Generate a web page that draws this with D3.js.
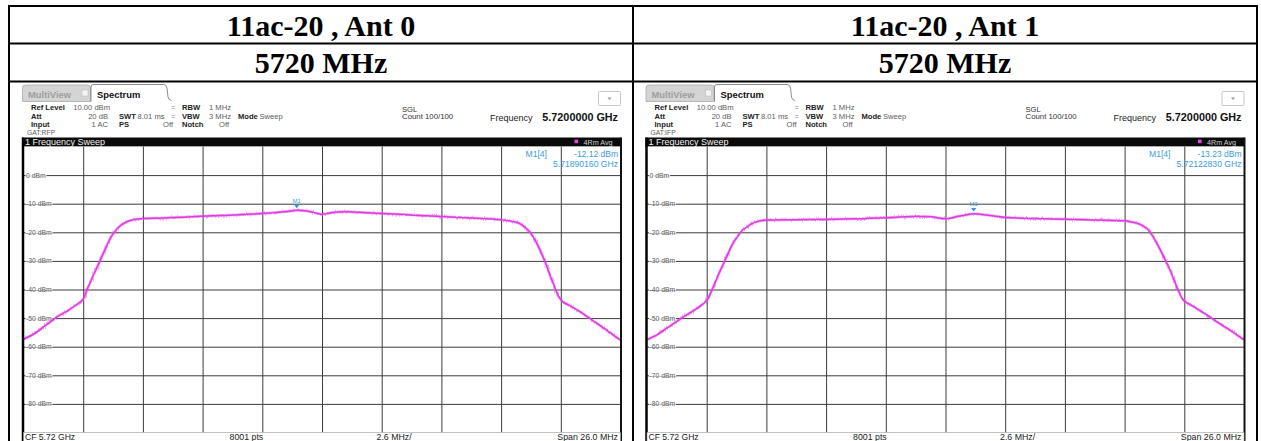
<!DOCTYPE html>
<html><head><meta charset="utf-8">
<script src="https://cdn.jsdelivr.net/npm/d3@7"></script>
<style>body{margin:0;background:#fff} svg{display:block}</style>
</head><body>
<script>
// ---------- DATA ----------
const panelTitles = ["11ac-20 , Ant 0", "11ac-20 , Ant 1"];
const channelLabels = ["5720 MHz", "5720 MHz"];
const yTickValues = [0, -10, -20, -30, -40, -50, -60, -70, -80];
const yTickLabels = ["0 dBm", "-10 dBm", "-20 dBm", "-30 dBm", "-40 dBm", "-50 dBm", "-60 dBm", "-70 dBm", "-80 dBm"];
const gatLabels = ["GAT:RFP", "GAT:IFP"];
const markerLevelText = ["-12.12 dBm", "-13.23 dBm"];
const markerFreqText = ["5.71890160 GHz", "5.72122830 GHz"];
const markerOffsetMHz = [-1.0984, 1.2283];
const markerLevel = [-12.12, -13.23];

// frequency offset from CF (MHz) and level (dBm)
const ant0Freq = [-13.0,-12.5,-12.0,-11.5,-11.0,-10.6,-10.4,-10.2,-10.0,-9.8,-9.6,-9.4,-9.2,-9.0,-8.8,-8.5,-8.2,-7.8,-7.0,-6.0,-5.0,-4.0,-3.0,-2.0,-1.5,-1.1,-0.6,-0.2,0.0,0.3,0.7,1.1,1.6,2.6,4.0,5.2,6.5,7.8,8.3,8.6,8.85,9.05,9.3,9.5,9.7,9.9,10.1,10.3,10.45,10.7,11.0,11.5,12.0,12.5,13.0];
const ant0Level = [-57.4,-55.3,-52.3,-49.4,-47.0,-44.8,-43.4,-39.4,-35.8,-32.3,-28.7,-25.2,-21.8,-19.5,-17.8,-16.3,-15.6,-15.2,-15.0,-14.7,-14.3,-14.0,-13.6,-13.1,-12.7,-12.3,-12.6,-13.4,-13.7,-13.3,-12.9,-12.8,-13.0,-13.4,-14.0,-14.5,-15.0,-15.6,-16.2,-16.9,-18.3,-19.9,-23.0,-26.3,-30.0,-34.3,-38.5,-42.3,-44.0,-45.3,-46.6,-49.2,-52.0,-54.8,-57.7];
const ant1Freq = [-13.0,-12.5,-12.0,-11.5,-11.0,-10.6,-10.37,-10.14,-9.9,-9.7,-9.53,-9.3,-9.02,-8.85,-8.66,-8.45,-8.22,-7.74,-6.5,-5.17,-4.0,-2.56,-1.8,-1.25,-0.6,-0.2,0.02,0.25,0.5,0.9,1.22,1.8,2.62,4.0,5.2,6.5,7.79,8.1,8.33,8.55,8.76,9.0,9.2,9.5,9.78,10.1,10.34,10.6,10.87,11.4,11.96,12.5,13.0];
const ant1Level = [-57.6,-55.5,-52.8,-50.0,-47.6,-45.3,-43.5,-39.6,-35.0,-31.5,-28.5,-24.5,-21.0,-19.3,-18.2,-17.0,-16.3,-15.7,-15.6,-15.5,-15.3,-14.9,-14.6,-14.4,-14.6,-15.1,-15.3,-15.0,-14.5,-13.9,-13.5,-14.0,-14.8,-15.2,-15.4,-15.7,-16.0,-16.4,-16.8,-17.5,-18.6,-21.0,-23.8,-28.5,-33.2,-39.6,-43.5,-45.0,-46.3,-49.0,-52.0,-54.8,-57.6];

const traces = [
  ant0Freq.map((f, i) => [f, ant0Level[i]]),
  ant1Freq.map((f, i) => [f, ant1Level[i]])
];

// ---------- LAYOUT ----------
const W = 1261, H = 441;
const uiFont = "'Liberation Sans', Arial, sans-serif";
const svg = d3.select("body").append("svg").attr("width", W).attr("height", H)
  .style("font-family", uiFont);
svg.append("rect").attr("width", W).attr("height", H).attr("fill", "#fff");

// trace jitter filter (visual texture only)
const defs = svg.append("defs");
const flt = defs.append("filter").attr("id", "jitter").attr("x", "-5%").attr("y", "-20%")
  .attr("width", "110%").attr("height", "140%");
flt.append("feTurbulence").attr("type", "fractalNoise").attr("baseFrequency", "1.1 0.08")
  .attr("numOctaves", 1).attr("seed", 3).attr("result", "n");
flt.append("feDisplacementMap").attr("in", "SourceGraphic").attr("in2", "n").attr("scale", 3.4)
  .attr("xChannelSelector", "B").attr("yChannelSelector", "R");

// table
const tbl = svg.append("g");
const cellX = [9, 633, 1257];
const rowY = [6, 43.5, 81.5];
const titleFont = "'Liberation Serif', 'Times New Roman', serif";
[0, 1].forEach(i => {
  const cx = (cellX[i] + cellX[i + 1]) / 2;
  tbl.append("text").attr("x", cx).attr("y", 35.5).attr("text-anchor", "middle")
    .attr("font-family", titleFont).attr("font-weight", "bold").attr("font-size", 30)
    .text(panelTitles[i]);
  tbl.append("text").attr("x", cx).attr("y", 73).attr("text-anchor", "middle")
    .attr("font-family", titleFont).attr("font-weight", "bold").attr("font-size", 30)
    .text(channelLabels[i]);
});

const plotW = 597;
const plotTop = 146.5, plotBottom = 432.5;
const origins = [23.5, 647];

origins.forEach((ox, p) => {
  const g = svg.append("g");
  const x = d3.scaleLinear().domain([-13, 13]).range([ox, ox + plotW]);
  const y = d3.scaleLinear().domain([10, -90]).range([plotTop, plotBottom]);

  const t = (tx, ty, s, opt = {}) => g.append("text").attr("x", ox + tx).attr("y", ty)
    .attr("font-size", opt.size || 7.6).attr("font-weight", opt.bold ? "bold" : "normal")
    .attr("fill", opt.fill || "#222").attr("text-anchor", opt.anchor || "start").text(s);

  // tabs
  g.append("path").attr("d", `M${ox-1},101.5 L${ox-1},88 Q${ox-1},85 ${ox+2},85 L${ox+64},85 Q${ox+67},85 ${ox+67},88 L${ox+67},101.5 Z`)
    .attr("fill", "#d4d4d4").attr("stroke", "#a8a8a8").attr("stroke-width", 0.8);
  t(4.5, 98, "MultiView", { size: 9.4, bold: true, fill: "#9e9e9e" });
  g.append("rect").attr("x", ox + 58.5).attr("y", 90).attr("width", 6).attr("height", 6)
    .attr("fill", "#f4f4f4").attr("stroke", "#bdbdbd").attr("stroke-width", 0.6);
  g.append("path").attr("d", `M${ox+67.5},101.5 L${ox+67.5},87 Q${ox+67.5},84.5 ${ox+70},84.5 L${ox+140},84.5 Q${ox+143},84.5 ${ox+143.5},88 L${ox+144.5},97 Q${ox+145},100 ${ox+148},100.5`)
    .attr("fill", "#fff").attr("stroke", "#6e6e6e").attr("stroke-width", 0.8);
  t(73.5, 98, "Spectrum", { size: 9.4, bold: true, fill: "#111" });
  // dropdown box
  g.append("rect").attr("x", ox + 575).attr("y", 91.5).attr("width", 22).attr("height", 14)
    .attr("fill", "#fff").attr("stroke", "#b8b8b8").attr("stroke-width", 0.8).attr("rx", 1);
  g.append("path").attr("d", `M${ox+584},97.5 L${ox+588},97.5 L${ox+586},100 Z`).attr("fill", "#9a9a9a");

  // parameter block
  const val = "#5c5c5c";
  t(7.5, 110, "Ref Level", { bold: true });
  t(86.5, 110, "10.00 dBm", { anchor: "end", fill: val });
  t(7.5, 118.5, "Att", { bold: true });
  t(84.5, 118.5, "20 dB", { anchor: "end", fill: val });
  t(7.5, 127, "Input", { bold: true });
  t(84.5, 127, "1 AC", { anchor: "end", fill: val });
  t(3.5, 135, gatLabels[p], { size: 6.8, fill: val });
  t(95.5, 118.5, "SWT", { bold: true });
  t(114, 118.5, "8.01 ms", { fill: val });
  t(95.5, 127, "PS", { bold: true });
  t(149.5, 127, "Off", { anchor: "end", fill: val });
  t(147.5, 110, "=", { fill: "#8a8a8a" });
  t(147.5, 118.5, "=", { fill: "#8a8a8a" });
  t(158.5, 110, "RBW", { bold: true });
  t(185.5, 110, "1 MHz", { fill: val });
  t(158.5, 118.5, "VBW", { bold: true });
  t(185.5, 118.5, "3 MHz", { fill: val });
  t(158.5, 127, "Notch", { bold: true });
  t(205.5, 127, "Off", { anchor: "end", fill: val });
  t(214.5, 118.5, "Mode", { bold: true });
  t(236, 118.5, "Sweep", { fill: val });
  t(378.5, 111.5, "SGL", { size: 7.6, fill: "#333" });
  t(378.5, 119, "Count 100/100", { size: 7.8, fill: "#333" });
  t(466.5, 120.5, "Frequency", { size: 9, fill: "#222" });
  t(594.5, 120.5, "5.7200000 GHz", { size: 10.8, bold: true, anchor: "end", fill: "#111" });

  // sweep title bar
  g.append("rect").attr("x", ox - 1.5).attr("y", 137.5).attr("width", plotW + 2).attr("height", 9.2)
    .attr("fill", "#0a0a0a");
  t(1.5, 145.4, "1 Frequency Sweep", { size: 9, fill: "#f2f2f2" });
  g.append("rect").attr("x", ox + 551).attr("y", 139.6).attr("width", 3.6).attr("height", 3.6).attr("fill", "#e544e5");
  t(589, 145.2, "4Rm Avg", { size: 7.2, fill: "#cfcfcf", anchor: "end" });

  // plot background
  g.append("rect").attr("x", ox).attr("y", plotTop).attr("width", plotW).attr("height", plotBottom - plotTop + 9)
    .attr("fill", "#fff");

  // grid via axes
  const xTicks = d3.range(1, 10).map(k => -13 + k * 2.6);
  const yGrid = d3.range(0, -90, -10);
  g.append("g").attr("transform", `translate(0,${plotBottom})`)
    .call(d3.axisBottom(x).tickValues(xTicks).tickSize(plotBottom - plotTop).tickFormat(""))
    .call(a => a.select(".domain").remove())
    .call(a => a.selectAll("line").attr("stroke", "#3c3c3c").attr("transform", `translate(0,${-(plotBottom - plotTop)})`));
  g.append("g").attr("transform", `translate(${ox},0)`)
    .call(d3.axisRight(y).tickValues(yGrid).tickSize(plotW).tickFormat(""))
    .call(a => a.select(".domain").remove())
    .call(a => a.selectAll("line").attr("stroke", "#3c3c3c"));

  // y labels
  yTickValues.forEach((v, i) => {
    const tx = g.append("text").attr("x", ox + 2.5).attr("y", y(v) + 2.4).attr("font-size", 6.8)
      .attr("fill", "#5a5a5a").text(yTickLabels[i]);
    const bb = tx.node().getBBox();
    g.insert("rect", () => tx.node()).attr("x", bb.x - 0.5).attr("y", y(v) - 0.8).attr("width", bb.width + 1)
      .attr("height", 1.6).attr("fill", "#fff");
  });

  // trace
  const line = d3.line().x(d => x(d[0])).y(d => y(d[1])).curve(d3.curveMonotoneX);
  const clipId = "clip" + p;
  defs.append("clipPath").attr("id", clipId).append("rect").attr("x", ox).attr("y", plotTop)
    .attr("width", plotW).attr("height", plotBottom - plotTop);
  const tg = g.append("g").attr("clip-path", `url(#${clipId})`);
  tg.append("path").datum(traces[p]).attr("d", line).attr("fill", "none")
    .attr("stroke", "#e85ae8").attr("stroke-width", 2.8).attr("stroke-opacity", 0.55)
    .attr("filter", "url(#jitter)");
  tg.append("path").datum(traces[p]).attr("d", line).attr("fill", "none")
    .attr("stroke", "#e03ae4").attr("stroke-width", 1.5);

  // marker
  const mx = x(markerOffsetMHz[p]), my = y(markerLevel[p]);
  g.append("path").attr("d", `M${mx-2.6},${my-5} L${mx+2.6},${my-5} L${mx},${my-1.5} Z`).attr("fill", "#2f93dc");
  t(mx - ox, my - 6.5, "M1", { size: 6, fill: "#3a9ee0", anchor: "middle" });
  t(502, 157, "M1[4]", { fill: "#3a9ee0", size: 8.6 });
  t(594.5, 157, markerLevelText[p], { fill: "#3a9ee0", size: 8.5, anchor: "end" });
  t(594.5, 167, markerFreqText[p], { fill: "#3a9ee0", size: 8.6, anchor: "end" });

  // borders
  g.append("line").attr("x1", ox - 0.5).attr("x2", ox - 0.5).attr("y1", 137.5).attr("y2", H)
    .attr("stroke", "#000").attr("stroke-width", 2.5);
  g.append("line").attr("x1", ox + plotW + 0.5).attr("x2", ox + plotW + 0.5).attr("y1", 137.5).attr("y2", H)
    .attr("stroke", "#111").attr("stroke-width", 2);

  // bottom status bar
  g.append("rect").attr("x", ox).attr("y", plotBottom).attr("width", plotW).attr("height", 10)
    .attr("fill", "#fff").attr("stroke", "#999").attr("stroke-width", 0.6);
  t(1.5, 440.3, "CF 5.72 GHz", { size: 8.6, fill: "#222" });
  t(206, 440.3, "8001 pts", { size: 8.8, fill: "#222" });
  t(353, 440.3, "2.6 MHz/", { size: 8.8, fill: "#222" });
  t(594.5, 440.3, "Span 26.0 MHz", { size: 8.8, fill: "#222", anchor: "end" });
});

// table lines on top
tbl.append("rect").attr("x", cellX[0]).attr("y", rowY[0]).attr("width", cellX[2] - cellX[0]).attr("height", H + 10)
  .attr("fill", "none").attr("stroke", "#000").attr("stroke-width", 2);
tbl.append("line").attr("x1", cellX[1]).attr("x2", cellX[1]).attr("y1", rowY[0]).attr("y2", H)
  .attr("stroke", "#000").attr("stroke-width", 2);
[rowY[1], rowY[2]].forEach(yy => tbl.append("line").attr("x1", cellX[0]).attr("x2", cellX[2])
  .attr("y1", yy).attr("y2", yy).attr("stroke", "#000").attr("stroke-width", 2));
</script>
</body></html>
